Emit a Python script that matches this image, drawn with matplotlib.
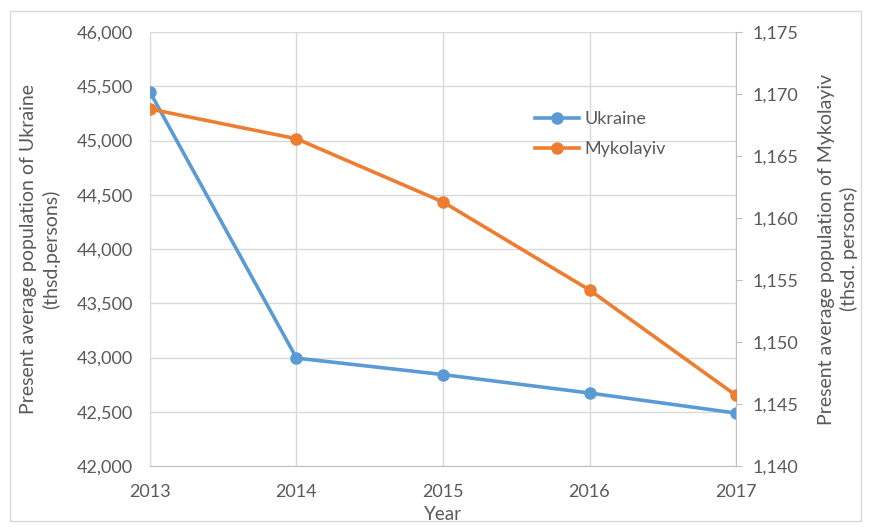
import matplotlib.pyplot as plt
from matplotlib.ticker import FuncFormatter
from matplotlib.patches import Rectangle

years = [2013, 2014, 2015, 2016, 2017]
ukraine = [45447, 42995, 42843, 42673, 42488]
mykolayiv = [1168.8, 1166.4, 1161.3, 1154.2, 1145.7]

left_ticks = [42000, 42500, 43000, 43500, 44000, 44500, 45000, 45500, 46000]
right_ticks = [1140, 1145, 1150, 1155, 1160, 1165, 1170, 1175]

plt.rcParams['font.family'] = ['Lato', 'DejaVu Sans']
text_color = '#595959'
grid_color = '#d9d9d9'
blue = '#5B9BD5'
orange = '#ED7D31'

fig = plt.figure(figsize=(8.7, 5.27), dpi=100)
fig.patches.append(Rectangle((0.012, 0.012), 0.978, 0.968, transform=fig.transFigure,
                             fill=False, edgecolor='#d9d9d9', linewidth=1.0))

ax = fig.add_axes([0.1724, 0.1157, 0.6736, 0.8233])
ax2 = ax.twinx()

l1, = ax.plot(years, ukraine, color=blue, linewidth=2.6, marker='o', markersize=8,
              label='Ukraine', zorder=3)
l2, = ax2.plot(years, mykolayiv, color=orange, linewidth=2.6, marker='o', markersize=8,
               label='Mykolayiv', zorder=3)

ax.set_xlim(2013, 2017)
ax.set_ylim(42000, 46000)
ax2.set_ylim(1140, 1175)
ax.set_xticks(years)
ax.set_yticks(left_ticks)
ax2.set_yticks(right_ticks)

fmt = FuncFormatter(lambda v, p: f'{int(round(v)):,}')
ax.yaxis.set_major_formatter(fmt)
ax2.yaxis.set_major_formatter(fmt)

ax.grid(True, color=grid_color, linewidth=1.0)
ax.set_axisbelow(True)

for a in (ax, ax2):
    for s in a.spines.values():
        s.set_visible(False)
ax.spines['bottom'].set_visible(True)
ax.spines['bottom'].set_color('#bfbfbf')
ax.spines['left'].set_visible(True)
ax.spines['left'].set_color(grid_color)
ax2.spines['right'].set_visible(True)
ax2.spines['right'].set_color('#bfbfbf')

ax.tick_params(axis='y', length=0, labelsize=13, labelcolor=text_color, pad=12)
ax.tick_params(axis='x', length=0, labelsize=13, labelcolor=text_color, pad=13)
ax2.tick_params(axis='y', length=4, color='#bfbfbf', labelsize=13, labelcolor=text_color, pad=8)

ax.set_xlabel('Year', fontsize=13.5, color=text_color, labelpad=4)
ax.set_ylabel('Present average population of Ukraine\n(thsd.persons)', fontsize=14,
              color=text_color, labelpad=12, linespacing=1.35)
ax2.set_ylabel('Present average population of Mykolayiv\n(thsd. persons)', fontsize=14,
               color=text_color, labelpad=14, linespacing=1.35)

ax2.legend(handles=[l1, l2], loc='center left', bbox_to_anchor=(0.63, 0.765),
           frameon=False, fontsize=13, labelcolor=text_color, handlelength=2.4,
           handletextpad=0.3, labelspacing=0.75)

fig.savefig('out.png', dpi=100)
